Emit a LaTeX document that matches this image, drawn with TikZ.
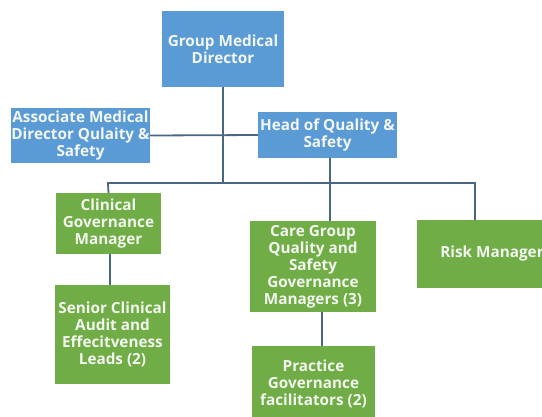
\documentclass[tikz,border=0pt]{standalone}
\usepackage{fontspec}
\setmainfont{Open Sans}
\definecolor{boxblue}{HTML}{5B9BD5}
\definecolor{boxgreen}{HTML}{70AD47}
\definecolor{linecol}{HTML}{4A6682}
\definecolor{boxtext}{HTML}{F2F6EE}
\begin{document}
\begin{tikzpicture}[x=1pt,y=-1pt,
  box/.style={inner sep=0pt,outer sep=0pt,text=boxtext,align=center,
    font=\fontsize{15.3}{17}\selectfont\bfseries},
  bluebox/.style={box,fill=boxblue},
  greenbox/.style={box,fill=boxgreen},
  conn/.style={draw=linecol,line width=1.8pt}]
\useasboundingbox (0,0) rectangle (542,416);
\fill[white] (0,0) rectangle (542,416);
\node[bluebox,minimum width=122pt,minimum height=76pt] (gmd) at (223,49) {Group Medical\\Director};
\node[bluebox,minimum width=139pt,minimum height=55pt] (amd) at (80.5,135.5) {Associate Medical\\Director Qulaity \&\\Safety};
\node[bluebox,minimum width=139pt,minimum height=46pt] (hqs) at (327.5,135) {Head of Quality \&\\Safety};
\node[greenbox,minimum width=105pt,minimum height=61pt] (cgm) at (108.5,223.5) {Clinical\\Governance\\Manager};
\node[greenbox,minimum width=115pt,minimum height=99pt] (sca) at (112.5,334.5) {Senior Clinical\\Audit and\\Effecitveness\\Leads (2)};
\node[greenbox,minimum width=126pt,minimum height=91pt] (cgq) at (313,266.5) {Care Group\\Quality and\\Safety\\Governance\\Managers (3)};
\node[greenbox,minimum width=123pt,minimum height=76pt] (pgf) at (313.5,384) {Practice\\Governance\\facilitators (2)};
\node[greenbox,minimum width=150pt,minimum height=68pt] (risk) at (492,254) {Risk Manager};
\coordinate (bus) at (223,183);
\draw[conn] (gmd.south) -- (bus);
\draw[conn] (amd.east) -- (hqs.west);
\draw[conn] (cgm.north) -- (108,183) -- (475,183) -- (risk.north -| 475,0);
\draw[conn] (hqs.south -| 330,0) -- (cgq.north -| 330,0);
\draw[conn] (cgm.south -| 110,0) -- (sca.north -| 110,0);
\draw[conn] (cgq.south -| 322,0) -- (pgf.north -| 322,0);
\end{tikzpicture}
\end{document}
